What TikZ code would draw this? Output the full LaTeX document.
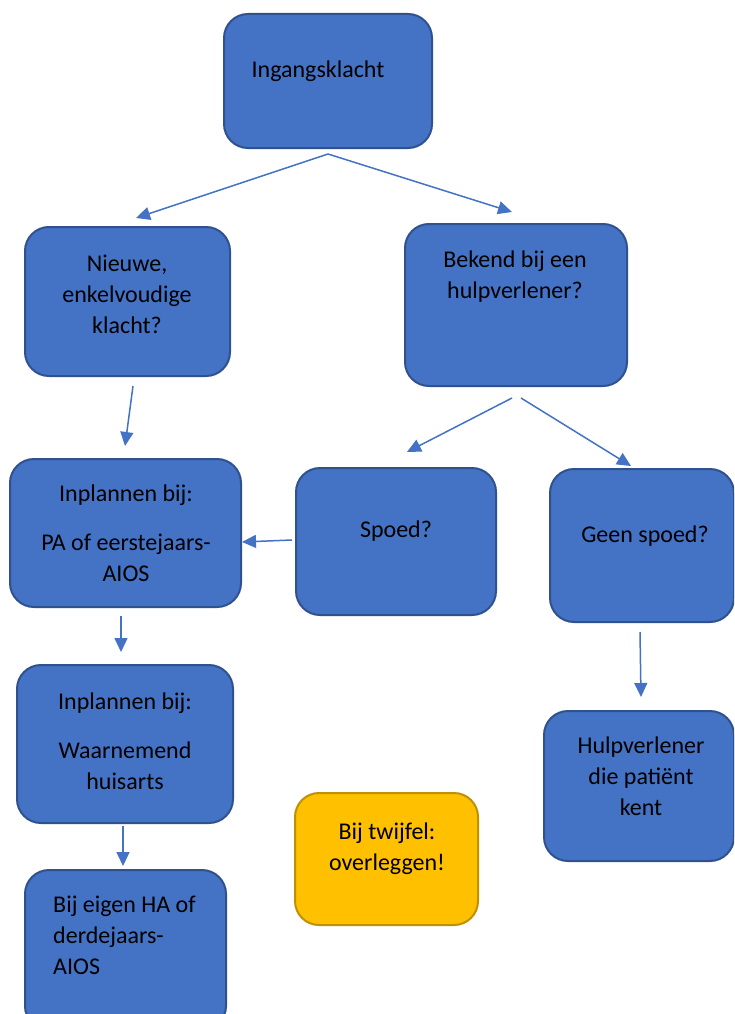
\documentclass[tikz,border=0pt]{standalone}
\usepackage{fontspec}
\setmainfont{Carlito}
\usetikzlibrary{arrows.meta,positioning}
\definecolor{blokblauw}{HTML}{4472C4}
\definecolor{blokrand}{HTML}{2F528F}
\definecolor{twijfelgeel}{HTML}{FFC000}
\definecolor{twijfelrand}{HTML}{BF9000}

\begin{document}
\begin{tikzpicture}[x=1pt,y=-1pt,
  blok/.style={draw=blokrand, line width=2pt, fill=blokblauw, rounded corners=24pt},
  tekst/.style={font=\fontsize{24}{31}\selectfont, align=center, inner sep=0pt},
  pijl/.style={draw=blokblauw, line width=1.5pt, -{Triangle[length=14pt,width=13pt]}}]
\clip (0,0) rectangle (734,1014);
\fill[white] (0,0) rectangle (734,1014);

% blokken
\node[blok, minimum width=208pt, minimum height=134pt] (ingang) at (328,81) {};
\node[tekst] (ingangT) at (318,71) {Ingangsklacht};

\node[blok, minimum width=205pt, minimum height=149pt] (nieuwe) at (127.5,301.5) {};
\node[tekst] (nieuweT) at (127,294.5) {Nieuwe,\\enkelvoudige\\klacht?};

\node[blok, minimum width=222pt, minimum height=162pt] (bekend) at (516,305) {};
\node[tekst] (bekendT) at (515,277) {Bekend bij een\\hulpverlener?};

\node[blok, minimum width=231pt, minimum height=148pt] (inplanPA) at (125.5,533) {};
\node[tekst] (inplanPAT) at (126,533.5) {Inplannen bij:\\[18pt]PA of eerstejaars-\\AIOS};

\node[blok, minimum width=200pt, minimum height=147pt] (spoed) at (396,541.5) {};
\node[tekst] (spoedT) at (396,531) {Spoed?};

\node[blok, minimum width=184pt, minimum height=153pt] (geenspoed) at (642,545.5) {};
\node[tekst] (geenspoedT) at (645,536) {Geen spoed?};

\node[blok, minimum width=216pt, minimum height=158pt] (waarnemend) at (125,744) {};
\node[tekst] (waarnemendT) at (125,741.5) {Inplannen bij:\\[18pt]Waarnemend\\huisarts};

\node[blok, minimum width=190pt, minimum height=150pt] (hulpverlener) at (639,786) {};
\node[tekst] (hulpverlenerT) at (641,776) {Hulpverlener\\die patiënt\\kent};

\node[blok, minimum width=201pt, minimum height=160pt] (eigenHA) at (125.5,950) {};
\node[tekst, align=left, anchor=west] (eigenHAT) at (53,935) {Bij eigen HA of\\derdejaars-\\AIOS};

\node[blok, draw=twijfelrand, fill=twijfelgeel, minimum width=183pt, minimum height=132pt] (twijfel) at (386.5,859) {};
\node[tekst] (twijfelT) at (387,849) {Bij twijfel:\\overleggen!};

% pijlen
\coordinate (ingangUit) at (328,154);
\coordinate (nieuweIn) at (136,218);
\coordinate (bekendIn) at (512,212);
\coordinate (nieuweUit) at (133,386);
\coordinate (inplanPAIn) at (125,446);
\coordinate (bekendUitL) at (512,398);
\coordinate (bekendUitR) at (521,398);
\coordinate (spoedIn) at (407,452);
\coordinate (geenspoedIn) at (631,466);
\coordinate (spoedUit) at (292,540);
\coordinate (inplanPAZij) at (242,542);
\coordinate (inplanPAUit) at (121,616);
\coordinate (waarnemendIn) at (121,652);
\coordinate (waarnemendUit) at (123,826);
\coordinate (eigenHAIn) at (123,866);
\coordinate (geenspoedUit) at (640,632);
\coordinate (hulpverlenerIn) at (641,697);

\draw[pijl] (ingangUit) -- (nieuweIn);
\draw[pijl] (ingangUit) -- (bekendIn);
\draw[pijl] (nieuweUit) -- (inplanPAIn);
\draw[pijl] (bekendUitL) -- (spoedIn);
\draw[pijl] (bekendUitR) -- (geenspoedIn);
\draw[pijl] (spoedUit) -- (inplanPAZij);
\draw[pijl] (inplanPAUit) -- (waarnemendIn);
\draw[pijl] (waarnemendUit) -- (eigenHAIn);
\draw[pijl] (geenspoedUit) -- (hulpverlenerIn);
\end{tikzpicture}
\end{document}
